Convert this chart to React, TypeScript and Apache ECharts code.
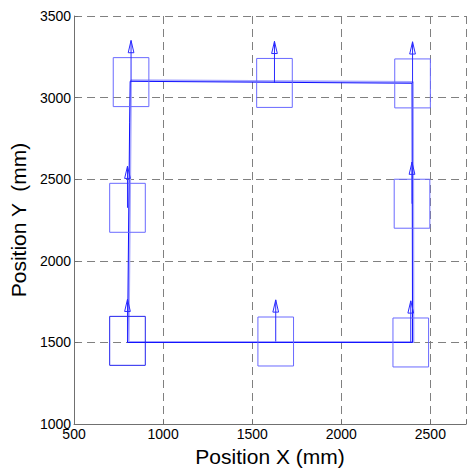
import React, { useEffect, useRef } from "react";
import * as echarts from "echarts";

// Pose centres (mm)
const poseX = [820, 1625, 2400, 800, 2397, 800, 1632, 2390];
const poseY = [3095, 3090, 3087, 2325, 2350, 1510, 1506, 1500];
const poseColor = ["#6a6aff", "#6a6aff", "#6a6aff", "#6a6aff", "#6a6aff", "#2222ee", "#6a6aff", "#6a6aff"];

// Trajectory (dark trace)
const pathX = [800, 2400, 2397, 815, 812, 800];
const pathY = [1500, 1500, 3088, 3100, 2850, 1500];
// Trajectory (light trace)
const path2X = [805, 2405, 2402, 820, 806];
const path2Y = [1504, 1503, 3095, 3106, 1505];

const xTicks = [500, 1000, 1500, 2000, 2500];
const yTicks = [1000, 1500, 2000, 2500, 3000, 3500];

const BOX_W = 200;
const BOX_H = 300;
const ARROW_LEN = 255;
const HEAD_LEN = 75;
const HEAD_W = 32;

export default function App() {
  const ref = useRef<HTMLDivElement>(null);
  useEffect(() => {
    if (!ref.current) return;
    const chart = echarts.init(ref.current, undefined, { renderer: "svg" });
    const font = "'Liberation Sans', Arial, sans-serif";
    const gridLine = { show: true, lineStyle: { color: "#808080", type: [8, 5] as any, width: 1 } };
    chart.setOption({
      animation: false,
      backgroundColor: "#ffffff",
      grid: { left: 73, top: 16, width: 398, height: 413, containLabel: false },
      xAxis: {
        type: "value",
        min: 500,
        max: 2700,
        interval: 500,
        name: "Position X (mm)",
        nameLocation: "middle",
        nameGap: 18,
        nameTextStyle: { fontFamily: font, fontSize: 21, color: "#000" },
        axisLine: { show: true, onZero: false, lineStyle: { color: "#707070", width: 1 } },
        axisTick: { show: true, inside: true, length: 4, lineStyle: { color: "#707070" } },
        axisLabel: {
          fontFamily: font,
          fontSize: 14,
          color: "#000",
          margin: 3,
          formatter: (v: number) => (xTicks.includes(v) ? String(v) : ""),
        },
        splitLine: gridLine,
      },
      yAxis: {
        type: "value",
        min: 1000,
        max: 3500,
        interval: 500,
        name: "Position Y  (mm)",
        nameLocation: "middle",
        nameGap: 40,
        nameTextStyle: { fontFamily: font, fontSize: 21, color: "#000" },
        axisLine: { show: true, onZero: false, lineStyle: { color: "#707070", width: 1 } },
        axisTick: { show: true, inside: true, length: 4, lineStyle: { color: "#707070" } },
        axisLabel: {
          fontFamily: font,
          fontSize: 14,
          color: "#000",
          margin: 3,
          formatter: (v: number) => (yTicks.includes(v) ? String(v) : ""),
        },
        splitLine: gridLine,
      },
      series: [
        {
          type: "line",
          data: path2X.map((x, i) => [x, path2Y[i]]),
          showSymbol: false,
          lineStyle: { color: "#a8a8ff", width: 2 },
          z: 2,
        },
        {
          type: "line",
          data: pathX.map((x, i) => [x, pathY[i]]),
          showSymbol: false,
          lineStyle: { color: "#1010ff", width: 1 },
          z: 3,
        },
        {
          type: "custom",
          data: poseX.map((x, i) => [x, poseY[i], i]),
          z: 4,
          renderItem: (params: any, api: any) => {
            const cx = api.value(0);
            const cy = api.value(1);
            const idx = api.value(2);
            const color = poseColor[idx];
            const p1 = api.coord([cx - BOX_W / 2, cy + BOX_H / 2]);
            const p2 = api.coord([cx + BOX_W / 2, cy - BOX_H / 2]);
            const c = api.coord([cx, cy]);
            const tip = api.coord([cx, cy + ARROW_LEN]);
            const base = api.coord([cx, cy + ARROW_LEN - HEAD_LEN]);
            const hw = api.size([HEAD_W, 0])[0] / 2;
            return {
              type: "group",
              children: [
                {
                  type: "rect",
                  shape: { x: p1[0], y: p1[1], width: p2[0] - p1[0], height: p2[1] - p1[1] },
                  style: { fill: "none", stroke: color, lineWidth: 1 },
                },
                {
                  type: "line",
                  shape: { x1: c[0], y1: c[1], x2: tip[0], y2: tip[1] },
                  style: { stroke: "#2a2aff", lineWidth: 1 },
                },
                {
                  type: "polygon",
                  shape: {
                    points: [
                      [tip[0], tip[1]],
                      [base[0] - hw, base[1]],
                      [base[0] + hw, base[1]],
                    ],
                  },
                  style: { fill: "none", stroke: "#2a2aff", lineWidth: 1 },
                },
              ],
            };
          },
        },
      ],
    });
    return () => chart.dispose();
  }, []);
  return (
    <div
      ref={ref}
      style={{ position: "absolute", left: 0, top: 0, width: 469, height: 472, background: "#fff" }}
    />
  );
}
